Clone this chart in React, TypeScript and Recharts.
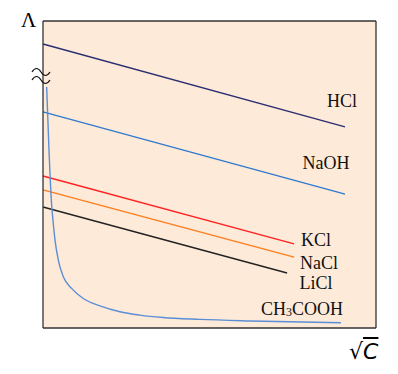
import { LineChart, Line, XAxis, YAxis, CartesianGrid, ReferenceDot, ReferenceLine } from 'recharts';

type Pt = { x: number; y: number };

// straight lines: start and end points (√C, Λ) in arbitrary units
const hcl: Pt[] = [{ x: 0, y: 9.25 }, { x: 9.07, y: 6.55 }];
const naoh: Pt[] = [{ x: 0, y: 7.04 }, { x: 9.07, y: 4.36 }];
const kcl: Pt[] = [{ x: 0, y: 4.95 }, { x: 7.54, y: 2.74 }];
const nacl: Pt[] = [{ x: 0, y: 4.5 }, { x: 7.54, y: 2.31 }];
const licl: Pt[] = [{ x: 0, y: 3.94 }, { x: 7.33, y: 1.79 }];

// weak electrolyte curve
const ch3cooh: Pt[] = [
  { x: 0.11, y: 7.85 },
  { x: 0.18, y: 5.8 },
  { x: 0.26, y: 4.0 },
  { x: 0.3, y: 3.5 },
  { x: 0.36, y: 2.87 },
  { x: 0.46, y: 2.21 },
  { x: 0.61, y: 1.67 },
  { x: 0.86, y: 1.29 },
  { x: 1.21, y: 0.96 },
  { x: 1.71, y: 0.72 },
  { x: 2.31, y: 0.53 },
  { x: 2.91, y: 0.42 },
  { x: 3.6, y: 0.34 },
  { x: 4.71, y: 0.28 },
  { x: 6.22, y: 0.23 },
  { x: 8.95, y: 0.17 },
];

const labels = [
  { name: 'HCl', x: 8.98, y: 7.39 },
  { name: 'NaOH', x: 8.5, y: 5.37 },
  { name: 'KCl', x: 8.2, y: 2.87 },
  { name: 'NaCl', x: 8.29, y: 2.12 },
  { name: 'LiCl', x: 8.2, y: 1.47 },
  { name: 'CH3COOH', x: 7.78, y: 0.62 },
];

const serif = '"Liberation Serif", "DejaVu Serif", serif';
const border = { stroke: '#333', strokeWidth: 1.3 };

function NameLabel(props: any) {
  const { viewBox, value } = props;
  const cx = viewBox.x + (viewBox.width || 0) / 2;
  const cy = viewBox.y + (viewBox.height || 0) / 2;
  if (value === 'CH3COOH') {
    return (
      <text x={cx} y={cy} textAnchor="middle" dominantBaseline="central" fontFamily={serif} fontSize={18} fill="#111">
        CH<tspan fontSize={12} dy={3}>3</tspan>
        <tspan dy={-3}>COOH</tspan>
      </text>
    );
  }
  return (
    <text x={cx} y={cy} textAnchor="middle" dominantBaseline="central" fontFamily={serif} fontSize={18} fill="#111">
      {value}
    </text>
  );
}

export default function App() {
  return (
    <div style={{ position: 'relative', width: 390, height: 366 }}>
      <LineChart width={390} height={366} margin={{ top: 13, right: 22, bottom: 46, left: 35 }}>
        <CartesianGrid horizontal={false} vertical={false} fill="#FDEAD9" />
        <XAxis type="number" dataKey="x" domain={[0, 10]} hide />
        <YAxis type="number" domain={[0, 10]} hide />
        <Line data={hcl} dataKey="y" stroke="#2B2F72" strokeWidth={1.4} dot={false} isAnimationActive={false} />
        <Line data={naoh} dataKey="y" stroke="#2F7AD0" strokeWidth={1.4} dot={false} isAnimationActive={false} />
        <Line data={kcl} dataKey="y" stroke="#FF2222" strokeWidth={1.4} dot={false} isAnimationActive={false} />
        <Line data={nacl} dataKey="y" stroke="#FF7D1C" strokeWidth={1.4} dot={false} isAnimationActive={false} />
        <Line data={licl} dataKey="y" stroke="#222222" strokeWidth={1.4} dot={false} isAnimationActive={false} />
        <Line data={ch3cooh} dataKey="y" type="monotone" stroke="#5B8ED6" strokeWidth={1.4} dot={false} isAnimationActive={false} />
        <ReferenceLine x={0} {...border} />
        <ReferenceLine x={10} {...border} />
        <ReferenceLine y={0} {...border} />
        <ReferenceLine y={10} {...border} />
        {labels.map((l) => (
          <ReferenceDot key={l.name} x={l.x} y={l.y} r={0} stroke="none" fill="none" label={<NameLabel value={l.name} />} />
        ))}
      </LineChart>
      <div style={{ position: 'absolute', left: 13, top: 1, fontFamily: serif, fontSize: 21, lineHeight: '22px' }}>Λ</div>
      <svg style={{ position: 'absolute', left: 0, top: 0 }} width={60} height={100}>
        <path d="M24,64 q4.5,-7 9,0 t9,0 M24,72 q4.5,-7 9,0 t9,0" fill="none" stroke="#111" strokeWidth={1.2} />
      </svg>
      <div style={{ position: 'absolute', left: 341, top: 331, fontFamily: '"DejaVu Sans", sans-serif', fontSize: 22, lineHeight: '26px' }}>
        √<span style={{ fontStyle: 'italic', textDecoration: 'overline' }}>C</span>
      </div>
    </div>
  );
}
